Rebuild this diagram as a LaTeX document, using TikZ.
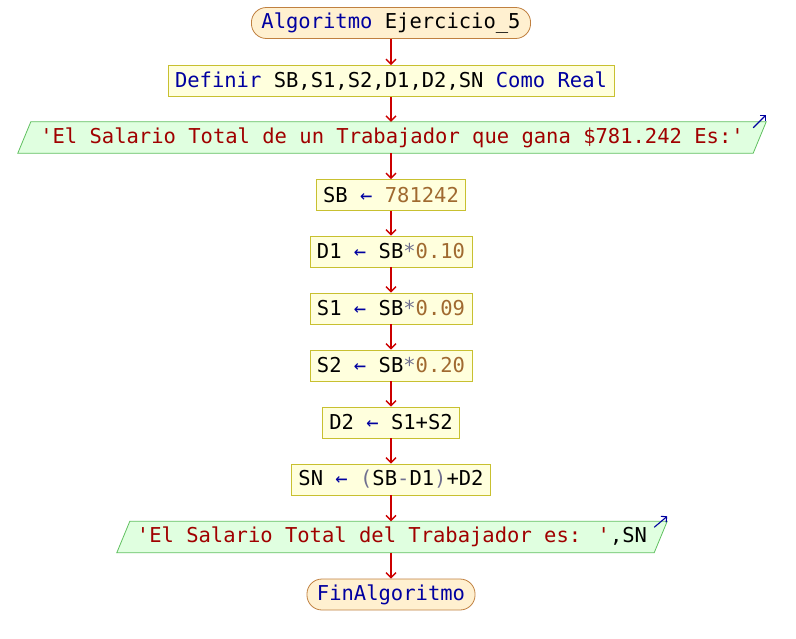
\documentclass[tikz,border=0pt]{standalone}
\usepackage{fontspec}
\setmainfont{DejaVu Sans Mono}
\usetikzlibrary{arrows.meta}
\definecolor{kwc}{HTML}{0000A0}
\definecolor{strc}{HTML}{A00000}
\definecolor{numc}{HTML}{A06A30}
\definecolor{opc}{HTML}{707090}
\definecolor{flowc}{HTML}{CC0000}
\definecolor{procfill}{HTML}{FFFFDD}
\definecolor{procdraw}{HTML}{C8C030}
\definecolor{termfill}{HTML}{FFF0D0}
\definecolor{termdraw}{HTML}{C08040}
\definecolor{iofill}{HTML}{E0FFE0}
\definecolor{iodraw}{HTML}{60C060}
\newcommand{\kw}[1]{\textcolor{kwc}{#1}}
\newcommand{\strg}[1]{\textcolor{strc}{#1}}
\newcommand{\numb}[1]{\textcolor{numc}{#1}}
\newcommand{\asg}{\textcolor{kwc}{←}}
\newcommand{\opr}[1]{\textcolor{opc}{#1}}
\begin{document}
\begin{tikzpicture}[x=1pt,y=-1pt,
  every node/.style={font=\fontsize{20.5}{24}\selectfont, inner ysep=0pt, minimum height=31pt, anchor=center},
  proc/.style={draw=procdraw, fill=procfill, line width=0.8pt, inner xsep=7pt},
  term/.style={draw=termdraw, fill=termfill, line width=0.8pt, inner xsep=10pt, rounded corners=15pt},
  io/.style={inner xsep=0pt},
  flow/.style={draw=flowc, line width=1.4pt, -{Straight Barb[length=5pt,width=10pt]}},
  iotip/.style={draw=kwc, line width=1.1pt, -{Straight Barb[length=4pt,width=8pt]}}
]
\useasboundingbox (0,0) rectangle (796,638);
\node[term] (start) at (391,23) {\kw{Algoritmo} Ejercicio\_5};
\node[proc] (def) at (391,81) {\kw{Definir} SB,S1,S2,D1,D2,SN \kw{Como} \kw{Real}};
\node[io, minimum width=748pt] (o1) at (392,137.5) {};
\fill[iofill] (o1.south west) -- ([xshift=-13pt]o1.south east) -- (o1.north east) -- ([xshift=13pt]o1.north west) -- cycle;
\draw[iodraw, line width=0.8pt] (o1.south west) -- ([xshift=-13pt]o1.south east) -- (o1.north east) -- ([xshift=13pt]o1.north west) -- cycle;
\node[io] at (o1) {\strg{\textquotesingle El Salario Total de un Trabajador que gana \$781.242 Es:\textquotesingle}};
\coordinate (o1a) at ([xshift=-13pt,yshift=-6pt]o1.north east);
\coordinate (o1b) at ([yshift=7pt]o1.north east);
\draw[iotip] (o1a) -- (o1b);
\node[proc] (sb) at (391,195) {SB \asg{} \numb{781242}};
\node[proc] (d1) at (391,251.5) {D1 \asg{} SB\opr{*}\numb{0.10}};
\node[proc] (s1) at (391,308.5) {S1 \asg{} SB\opr{*}\numb{0.09}};
\node[proc] (s2) at (391,365.5) {S2 \asg{} SB\opr{*}\numb{0.20}};
\node[proc] (d2) at (391,422.5) {D2 \asg{} S1+S2};
\node[proc] (sn) at (391,479.5) {SN \asg{} \opr{(}SB\opr{-}D1\opr{)}+D2};
\node[io, minimum width=550pt] (o2) at (392,537) {};
\fill[iofill] (o2.south west) -- ([xshift=-13pt]o2.south east) -- (o2.north east) -- ([xshift=13pt]o2.north west) -- cycle;
\draw[iodraw, line width=0.8pt] (o2.south west) -- ([xshift=-13pt]o2.south east) -- (o2.north east) -- ([xshift=13pt]o2.north west) -- cycle;
\node[io] at (o2) {\strg{\textquotesingle El Salario Total del Trabajador es: \textquotesingle},SN};
\coordinate (o2a) at ([xshift=-13pt,yshift=-6pt]o2.north east);
\coordinate (o2b) at ([yshift=5pt]o2.north east);
\draw[iotip] (o2a) -- (o2b);
\node[term] (fin) at (391,594.5) {\kw{FinAlgoritmo}};
\draw[flow] (start) -- (def);
\draw[flow] (def) -- (def |- o1.north);
\draw[flow] (def |- o1.south) -- (sb);
\draw[flow] (sb) -- (d1);
\draw[flow] (d1) -- (s1);
\draw[flow] (s1) -- (s2);
\draw[flow] (s2) -- (d2);
\draw[flow] (d2) -- (sn);
\draw[flow] (sn) -- (sn |- o2.north);
\draw[flow] (sn |- o2.south) -- (fin);
\end{tikzpicture}
\end{document}
